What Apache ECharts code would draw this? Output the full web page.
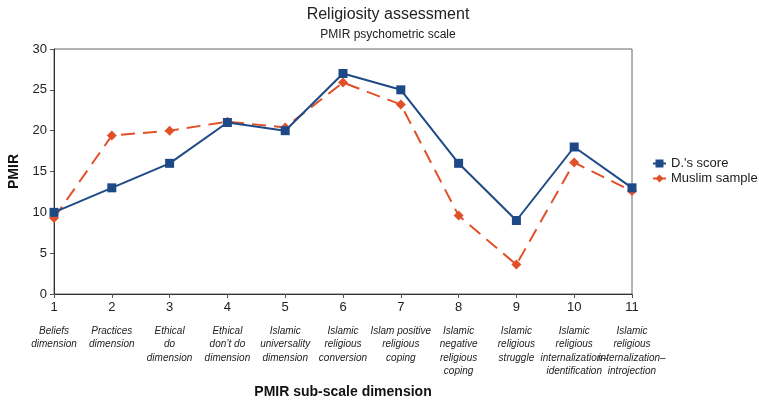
<!DOCTYPE html>
<html><head><meta charset="utf-8">
<script src="https://cdn.jsdelivr.net/npm/echarts@6/dist/echarts.min.js"></script>
<style>html,body{margin:0;padding:0;background:#fff}#c{width:759px;height:403px}</style>
</head><body><div id="c"></div>
<script>
var categories = ['1','2','3','4','5','6','7','8','9','10','11'];
var dimensionNames = [
  'Beliefs\ndimension',
  'Practices\ndimension',
  'Ethical\ndo\ndimension',
  'Ethical\ndon\u2019t do\ndimension',
  'Islamic\nuniversality\ndimension',
  'Islamic\nreligious\nconversion',
  'Islam positive\nreligious\ncoping',
  'Islamic\nnegative\nreligious\ncoping',
  'Islamic\nreligious\nstruggle',
  'Islamic\nreligious\ninternalization\u2013\nidentification',
  'Islamic\nreligious\ninternalization\u2013\nintrojection'
];
var dScore = [10, 13, 16, 21, 20, 27, 25, 16, 9, 18, 13];
var muslimSample = [9.3, 19.4, 20, 21.1, 20.4, 25.9, 23.2, 9.6, 3.6, 16.1, 12.6];
var yTicks = [0, 5, 10, 15, 20, 25, 30];

var font = 'Liberation Sans, Arial, sans-serif';
var chart = echarts.init(document.getElementById('c'), null, {renderer: 'canvas'});
chart.setOption({
  animation: false,
  backgroundColor: '#fff',
  textStyle: {fontFamily: font},
  title: {
    text: 'Religiosity assessment',
    subtext: 'PMIR psychometric scale',
    left: 383, textAlign: 'center', top: 2, itemGap: 6,
    textStyle: {fontFamily: font, fontSize: 16, fontWeight: 'normal', color: '#222'},
    subtextStyle: {fontFamily: font, fontSize: 12, color: '#222'}
  },
  legend: {
    orient: 'vertical', left: 647, top: 152, itemGap: 2,
    itemWidth: 13, itemHeight: 10,
    textStyle: {fontFamily: font, fontSize: 13, color: '#222'},
    data: ["D.'s score", 'Muslim sample']
  },
  grid: {left: 54, right: 127, top: 49, bottom: 109, show: true, borderColor: '#666', borderWidth: 1,
         containLabel: false, outerBoundsMode: 'none'},
  xAxis: {
    type: 'category', data: categories, boundaryGap: false,
    axisLine: {lineStyle: {color: '#333', width: 1}},
    axisTick: {show: true, length: 4, lineStyle: {color: '#555'}, alignWithLabel: true},
    axisLabel: {
      interval: 0, margin: 6, color: '#222', hideOverlap: false,
      formatter: function (v, i) {
        return '{n|' + v + '}\n{s| }\n{d|' + dimensionNames[i] + '}';
      },
      rich: {
        n: {fontFamily: font, fontSize: 13, lineHeight: 14, color: '#222'},
        s: {fontSize: 8, lineHeight: 10},
        d: {fontFamily: font, fontSize: 10, fontStyle: 'italic', lineHeight: 13.5, color: '#222'}
      }
    },
    name: 'PMIR sub-scale dimension', nameLocation: 'middle', nameGap: 91,
    nameTextStyle: {fontFamily: font, fontSize: 14, fontWeight: 'bold', color: '#111'}
  },
  yAxis: {
    type: 'value', min: 0, max: 30, interval: 5,
    axisLine: {show: true, lineStyle: {color: '#333'}},
    axisTick: {show: true, length: 4, lineStyle: {color: '#555'}},
    splitLine: {show: false},
    axisLabel: {
      fontFamily: font, fontSize: 13, color: '#222', margin: 7,
      formatter: function (v) { return yTicks.indexOf(v) >= 0 ? String(v) : ''; }
    },
    name: 'PMIR', nameLocation: 'middle', nameGap: 31, nameRotate: 90,
    nameTextStyle: {fontFamily: font, fontSize: 14, fontWeight: 'bold', color: '#111'}
  },
  series: [
    {
      name: "D.'s score", type: 'line', data: dScore,
      symbol: 'rect', symbolSize: 9, z: 3,
      lineStyle: {color: '#1d4a87', width: 2},
      itemStyle: {color: '#1d4a87'}
    },
    {
      name: 'Muslim sample', type: 'line', data: muslimSample,
      symbol: 'diamond', symbolSize: 10, z: 2,
      lineStyle: {color: '#e0512a', width: 2, type: [14, 8]},
      itemStyle: {color: '#e0512a'}
    }
  ]
});
</script>
</body></html>
